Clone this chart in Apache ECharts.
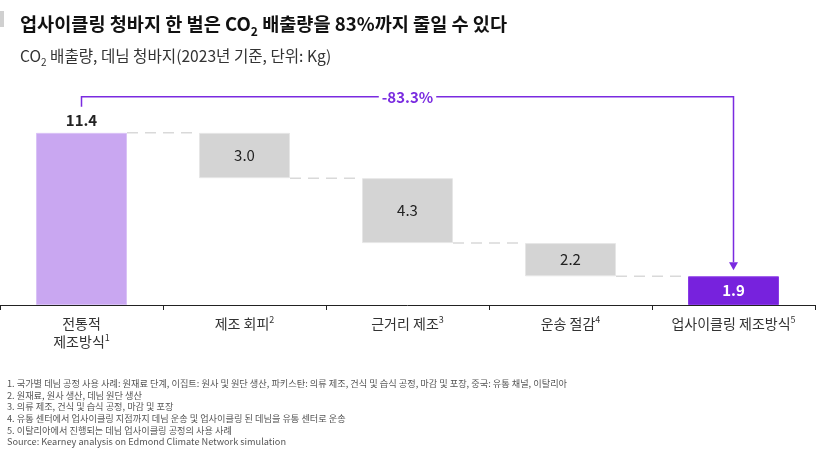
<!DOCTYPE html>
<html>
<head>
<meta charset="utf-8">
<script src="https://cdn.jsdelivr.net/npm/echarts@6/dist/echarts.min.js"></script>
<style>html,body{margin:0;padding:0;background:#fff}#c{width:826px;height:450px}</style>
</head>
<body>
<div id="c"></div>
<script>
// ---- data ----
const categories = ['전통적\n제조방식', '제조 회피', '근거리 제조', '운송 절감', '업사이클링 제조방식'];
const footMarks = ['1', '2', '3', '4', '5'];
const values = [11.4, 3.0, 4.3, 2.2, 1.9];   // first = total, middle = reductions, last = result
const footnotes = [
  '1. 국가별 데님 공정 사용 사례: 원재료 단계, 이집트: 원사 및 원단 생산, 파키스탄: 의류 제조, 건식 및 습식 공정, 마감 및 포장, 중국: 유통 채널, 이탈리아',
  '2. 원재료, 원사 생산, 데님 원단 생산',
  '3. 의류 제조, 건식 및 습식 공정, 마감 및 포장',
  '4. 유통 센터에서 업사이클링 지점까지 데님 운송 및 업사이클링 된 데님을 유통 센터로 운송',
  '5. 이탈리아에서 진행되는 데님 업사이클링 공정의 사용 사례',
  'Source: Kearney analysis on Edmond Climate Network simulation'
];

// ---- derived waterfall bases ----
const n = values.length;
const base = [];
const levels = [];
let run = values[0];
base.push(0); levels.push(values[0]);
for (let i = 1; i < n - 1; i++) {
  run = +(run - values[i]).toFixed(4);
  base.push(run); levels.push(run);
}
base.push(0);
const finalVal = values[n - 1];
const pct = ((values[0] - finalVal) / values[0] * 100).toFixed(1);

const FONT = '"Noto Sans CJK KR", "Noto Sans", sans-serif';
const BAR_W = 91;
const PURPLE = '#7a2be0';
const colors = ['#c9a7f1', '#d4d4d4', '#d4d4d4', '#d4d4d4', '#7722dd'];
const borders = ['#d9c2f6', '#e6e6e6', '#e6e6e6', '#e6e6e6', '#8a3ae6'];

const chart = echarts.init(document.getElementById('c'), null, {renderer: 'canvas'});

const fmt = p => Number(p.value).toFixed(1);
const valueData = values.map((v, i) => {
  const d = {value: v, itemStyle: {color: colors[i], borderColor: borders[i], borderWidth: 1}};
  if (i === 0) {
    d.label = {show: true, formatter: fmt, position: 'top', distance: 5, fontSize: 15, fontWeight: 'bold', color: '#222', fontFamily: FONT};
  } else if (i === n - 1) {
    d.label = {show: true, formatter: fmt, position: 'inside', fontSize: 15, fontWeight: 'bold', color: '#fff', fontFamily: FONT};
  } else {
    d.label = {show: true, formatter: fmt, position: 'inside', fontSize: 15, color: '#222', fontFamily: FONT};
  }
  return d;
});

const option = {
  animation: false,
  backgroundColor: '#fff',
  title: [
    {
      left: 15, top: 6,
      text: '{t|업사이클링 청바지 한 벌은 CO}{sb|2}{t| 배출량을 83%까지 줄일 수 있다}',
      textStyle: {
        rich: {
          t: {fontSize: 18.6, fontWeight: 'bold', color: '#111', fontFamily: FONT, lineHeight: 26},
          sb: {fontSize: 12, fontWeight: 'bold', color: '#111', fontFamily: FONT, verticalAlign: 'bottom', lineHeight: 18}
        }
      }
    },
    {
      left: 15, top: 41,
      text: '{s|CO}{sb|2}{s| 배출량, 데님 청바지(2023년 기준, 단위: Kg)}',
      textStyle: {
        fontWeight: 'normal',
        rich: {
          s: {fontSize: 15.6, fontWeight: 'normal', color: '#333', fontFamily: FONT, lineHeight: 21},
          sb: {fontSize: 10, fontWeight: 'normal', color: '#333', fontFamily: FONT, verticalAlign: 'bottom', lineHeight: 15}
        }
      }
    },
    {
      left: 2, top: 373,
      text: footnotes.join('\n'),
      textStyle: {fontSize: 9.2, color: '#555', fontFamily: FONT, fontWeight: 'normal', lineHeight: 11.6}
    }
  ],
  graphic: [
    {type: 'rect', left: 0, top: 11, shape: {width: 4, height: 16}, style: {fill: '#d0d0d0'}}
  ],
  grid: {left: 0, right: 11, top: 93.6, bottom: 145, containLabel: false, outerBoundsMode: 'none'},
  xAxis: {
    type: 'category',
    data: categories,
    boundaryGap: true,
    axisLine: {lineStyle: {color: '#222', width: 1}},
    axisTick: {show: true, length: 5, lineStyle: {color: '#222'}},
    axisLabel: {
      interval: 0, margin: 10,
      formatter: function (val, idx) {
        const lines = val.split('\n');
        return lines.map((l, j) => '{a|' + l + '}' + (j === lines.length - 1 ? '{s|' + footMarks[idx] + '}' : '')).join('\n');
      },
      rich: {
        a: {fontSize: 14, color: '#333', fontFamily: FONT, lineHeight: 18},
        s: {fontSize: 9, color: '#333', fontFamily: FONT, verticalAlign: 'top', lineHeight: 13}
      }
    }
  },
  yAxis: {type: 'value', min: 0, max: 14, show: false, splitLine: {show: false}},
  series: [
    {
      name: 'base', type: 'bar', stack: 'w', barWidth: BAR_W,
      itemStyle: {color: 'transparent'}, emphasis: {disabled: true},
      data: base
    },
    {
      name: 'value', type: 'bar', stack: 'w', barWidth: BAR_W,
      data: valueData
    },
    {
      name: 'connectors', type: 'custom', z: 1,
      data: levels.map((lv, i) => [i, lv]),
      renderItem: function (params, api) {
        const i = api.value(0), lv = api.value(1);
        const p1 = api.coord([i, lv]);
        const p2 = api.coord([i + 1, lv]);
        return {
          type: 'line',
          shape: {x1: p1[0] + BAR_W / 2, y1: p1[1], x2: p2[0] - BAR_W / 2, y2: p2[1]},
          style: {stroke: '#d9d9d9', lineWidth: 1.5, lineDash: [11, 7]}
        };
      }
    },
    {
      name: 'annotation', type: 'custom', z: 5,
      data: [[0, values[0], n - 1, finalVal]],
      renderItem: function (params, api) {
        const a = api.coord([api.value(0), api.value(1)]);
        const b = api.coord([api.value(2), api.value(3)]);
        const yLine = a[1] - 36;
        const tipY = b[1] - 6;
        const baseY = b[1] - 14;
        return {
          type: 'group',
          children: [
            {type: 'polyline', shape: {points: [[a[0], a[1] - 26], [a[0], yLine], [b[0], yLine], [b[0], baseY]]},
             style: {stroke: PURPLE, lineWidth: 1.5, fill: null}},
            {type: 'polygon', shape: {points: [[b[0] - 4.5, baseY], [b[0] + 4.5, baseY], [b[0], tipY]]},
             style: {fill: PURPLE}},
            {type: 'text', x: (a[0] + b[0]) / 2, y: yLine,
             style: {text: '-' + pct + '%', fill: PURPLE, fontSize: 15, fontWeight: 'bold', fontFamily: FONT,
                     align: 'center', verticalAlign: 'middle', backgroundColor: '#fff', padding: [0, 3]}}
          ]
        };
      }
    }
  ]
};
chart.setOption(option);
</script>
</body>
</html>
